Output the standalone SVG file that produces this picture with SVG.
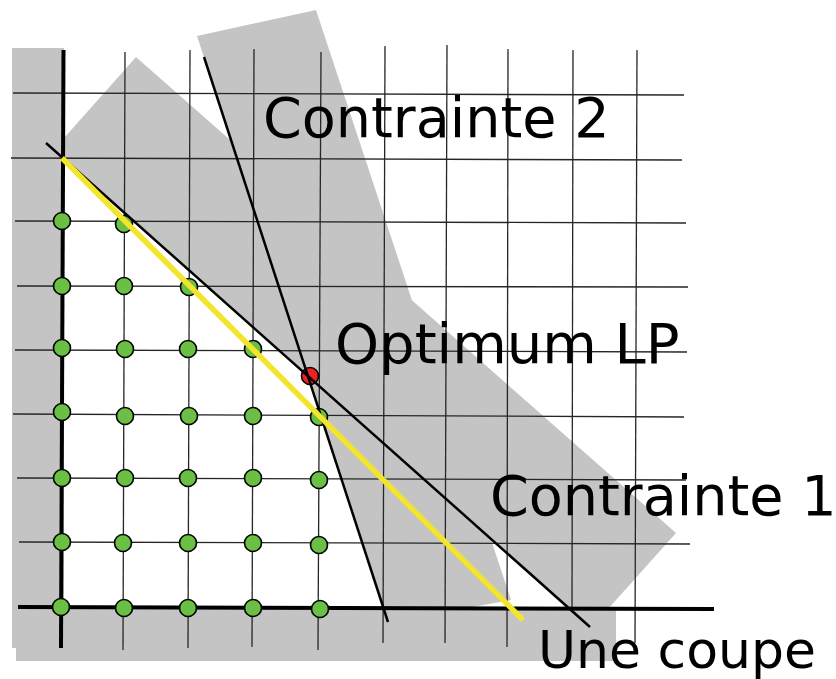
<svg xmlns="http://www.w3.org/2000/svg" width="836" height="679" viewBox="0 0 836 679">
  <style>
    .region { fill: #c4c4c4; stroke: none; }
    .grid { stroke: #262626; stroke-width: 1.3; fill: none; }
    .axis { stroke: #000; stroke-width: 4; fill: none; }
    .constraint { stroke: #000; stroke-width: 2.5; fill: none; }
    .cut { stroke: #f2e52c; stroke-width: 5.5; fill: none; }
    .pt { fill: #6abf45; stroke: #000; stroke-width: 1.6; }
    .opt { fill: #ee2222; stroke: #000; stroke-width: 1.6; }
    .label { font-family: "DejaVu Sans", "Liberation Sans", sans-serif; fill: #000; }
  </style>
  <rect width="836" height="679" fill="#ffffff"/>
  <g id="regions">
    <rect class="region" x="12" y="48" width="52" height="600"/>
    <rect class="region" x="16" y="607" width="600" height="54"/>
    <polygon class="region" points="53.6,149.7 136,57 676,533 591,628"/>
    <polygon class="region" points="197,36 316,10 511,600 388,622"/>
  </g>
  <g id="grid">
    <line class="grid" x1="13" y1="93" x2="684" y2="95"/>
    <line class="grid" x1="11" y1="158" x2="682" y2="160"/>
    <line class="grid" x1="15" y1="221" x2="686" y2="223"/>
    <line class="grid" x1="17" y1="286" x2="688" y2="287"/>
    <line class="grid" x1="15" y1="350" x2="687" y2="352"/>
    <line class="grid" x1="13" y1="414" x2="684" y2="417"/>
    <line class="grid" x1="17" y1="478" x2="686" y2="480"/>
    <line class="grid" x1="19" y1="542" x2="690" y2="544"/>
    <line class="grid" x1="125" y1="52" x2="123" y2="650"/>
    <line class="grid" x1="190" y1="50" x2="188" y2="648"/>
    <line class="grid" x1="254" y1="49" x2="252" y2="647"/>
    <line class="grid" x1="321" y1="52" x2="318" y2="650"/>
    <line class="grid" x1="385" y1="46" x2="383" y2="643"/>
    <line class="grid" x1="447" y1="45" x2="445" y2="643"/>
    <line class="grid" x1="508" y1="49" x2="507" y2="647"/>
    <line class="grid" x1="573" y1="50" x2="572" y2="612"/>
    <line class="grid" x1="637" y1="50" x2="635" y2="643"/>
  </g>
  <g id="axes">
    <line class="axis" x1="63.5" y1="50" x2="61" y2="648"/>
    <line class="axis" x1="18" y1="607" x2="714" y2="609"/>
  </g>
  <g id="points">
    <circle class="pt" cx="62" cy="221" r="8.5"/>
    <circle class="pt" cx="62" cy="286" r="8.5"/>
    <circle class="pt" cx="62" cy="348" r="8.5"/>
    <circle class="pt" cx="62" cy="412" r="8.5"/>
    <circle class="pt" cx="62" cy="478" r="8.5"/>
    <circle class="pt" cx="62" cy="542" r="8.5"/>
    <circle class="pt" cx="61" cy="607" r="8.5"/>
    <circle class="pt" cx="124" cy="224" r="8.5"/>
    <circle class="pt" cx="124" cy="286" r="8.5"/>
    <circle class="pt" cx="125" cy="349" r="8.5"/>
    <circle class="pt" cx="125" cy="416" r="8.5"/>
    <circle class="pt" cx="125" cy="478" r="8.5"/>
    <circle class="pt" cx="123" cy="543" r="8.5"/>
    <circle class="pt" cx="124" cy="608" r="8.5"/>
    <circle class="pt" cx="189" cy="287" r="8.5"/>
    <circle class="pt" cx="188" cy="349" r="8.5"/>
    <circle class="pt" cx="189" cy="416" r="8.5"/>
    <circle class="pt" cx="188" cy="478" r="8.5"/>
    <circle class="pt" cx="188" cy="543" r="8.5"/>
    <circle class="pt" cx="188" cy="608" r="8.5"/>
    <circle class="pt" cx="253" cy="349" r="8.5"/>
    <circle class="pt" cx="253" cy="416" r="8.5"/>
    <circle class="pt" cx="253" cy="478" r="8.5"/>
    <circle class="pt" cx="253" cy="543" r="8.5"/>
    <circle class="pt" cx="253" cy="608" r="8.5"/>
    <circle class="pt" cx="319" cy="417" r="8.5"/>
    <circle class="pt" cx="319" cy="480" r="8.5"/>
    <circle class="pt" cx="319" cy="545" r="8.5"/>
    <circle class="pt" cx="320" cy="609" r="8.5"/>
    <circle id="lp-optimum" class="opt" cx="310" cy="376" r="8.5"/>
  </g>
  <g id="connectors">
    <line id="constraint-1" class="constraint" x1="46" y1="143" x2="590" y2="627"/>
    <line id="constraint-2" class="constraint" x1="204" y1="57" x2="388" y2="622"/>
    <line id="cut" class="cut" x1="62" y1="158" x2="523" y2="620"/>
  </g>
  <g id="labels">
    <text class="label" x="263" y="137" font-size="55.6">Contrainte 2</text>
    <text class="label" x="335" y="363" font-size="56">Optimum LP</text>
    <text class="label" x="490" y="515" font-size="55.6">Contrainte 1</text>
    <text class="label" x="538" y="668" font-size="52">Une coupe</text>
  </g>
</svg>
